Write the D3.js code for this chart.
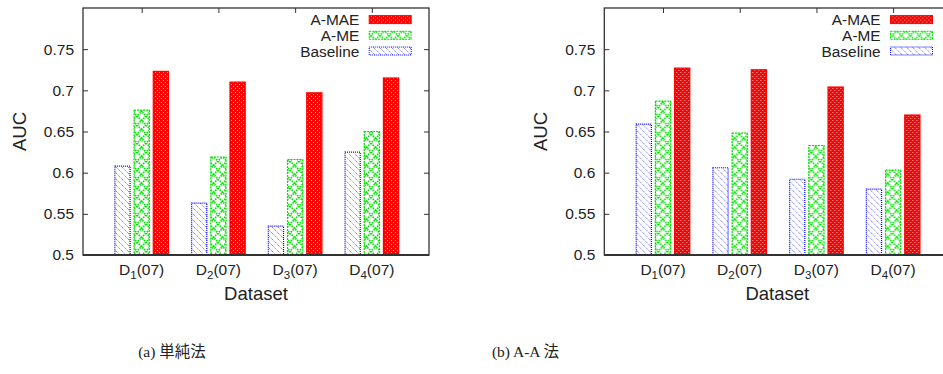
<!DOCTYPE html>
<html>
<head>
<meta charset="utf-8">
<script src="https://cdn.jsdelivr.net/npm/d3@7"></script>
<style>
body{margin:0;background:#fff;}
text{font-family:"Liberation Sans",Arial,sans-serif;fill:#222;}
.cap{font-family:"Liberation Serif","Noto Sans CJK JP",serif;}
</style>
</head>
<body>
<div id="chart"></div>
<script>
// AUC per dataset, two methods (a) simple, (b) A-A
var datasets=[1,2,3,4];
var seriesNames=["Baseline","A-ME","A-MAE"];
var yTicks=[0.5,0.55,0.6,0.65,0.7,0.75];
var simpleBaseline=[0.608,0.563,0.535,0.625];
var simpleAME=[0.676,0.619,0.616,0.650];
var simpleAMAE=[0.723,0.710,0.697,0.715];
var aaBaseline=[0.659,0.606,0.592,0.580];
var aaAME=[0.687,0.648,0.633,0.603];
var aaAMAE=[0.727,0.725,0.704,0.670];
var captions=["(a) 単純法","(b) A-A 法"];

var W=943,H=374;
var pw=346,ph=247;

var svg=d3.select("#chart").append("svg")
.attr("width",W).attr("height",H);

// fill patterns
var defs=svg.append("defs");
var pr=defs.append("pattern").attr("id","pRed").attr("patternUnits","userSpaceOnUse")
.attr("width",4).attr("height",4);
pr.append("rect").attr("width",4).attr("height",4).attr("fill","#f00");
pr.append("rect").attr("x",0).attr("y",0).attr("width",1).attr("height",1).attr("fill","#ffb8b8");
pr.append("rect").attr("x",2).attr("y",2).attr("width",1).attr("height",1).attr("fill","#ffb8b8");

var pg=defs.append("pattern").attr("id","pGreen").attr("patternUnits","userSpaceOnUse")
.attr("width",9).attr("height",9);
pg.append("rect").attr("width",9).attr("height",9).attr("fill","#fff");
pg.append("path").attr("d","M0,0L9,9M9,0L0,9")
.attr("stroke","#00e600").attr("stroke-width",1.7).attr("stroke-dasharray","1.6,0.9");

var pb=defs.append("pattern").attr("id","pBlue").attr("patternUnits","userSpaceOnUse")
.attr("width",6).attr("height",6);
pb.append("rect").attr("width",6).attr("height",6).attr("fill","#fff");
pb.append("path").attr("d","M-1,-1L7,7M-1,5L1,7M5,-1L7,1")
.attr("stroke","#5050ff").attr("stroke-width",1).attr("stroke-dasharray","1,1");

var fills={"Baseline":"url(#pBlue)","A-ME":"url(#pGreen)","A-MAE":"url(#pRed)"};
var strokes={"Baseline":"#0000ff","A-ME":"#00dd00","A-MAE":"#ff0000"};
var dashes={"Baseline":"1,1","A-ME":"2,1","A-MAE":null};

function panel(ox,series,caption,capX){
var g=svg.append("g").attr("transform",`translate(${ox},8)`);
var x=d3.scaleLinear().domain([-0.765,3.745]).range([0,pw]);
var xSub=d3.scaleBand().domain(seriesNames).range([-27.3,27.3]).paddingInner(0.156);
var y=d3.scaleLinear().domain([0.5,0.8]).range([ph,0]);

// bars
seriesNames.forEach(function(s,si){
g.selectAll(".b"+si).data(series[si]).enter()
.append("rect")
.attr("x",function(d,i){return x(i)+xSub(s)+0.5;})
.attr("width",xSub.bandwidth()-1)
.attr("y",function(d){return y(d);})
.attr("height",function(d){return ph-y(d);})
.attr("fill",fills[s]).attr("stroke",strokes[s])
.attr("stroke-width",1.2).attr("stroke-dasharray",dashes[s]);
});

// frame
g.append("rect").attr("width",pw).attr("height",ph)
.attr("fill","none").attr("stroke","#333").attr("stroke-width",1.3);
g.append("line").attr("x1",0).attr("x2",pw).attr("y1",ph).attr("y2",ph)
.attr("stroke","#333").attr("stroke-width",2);

// y axis (inward ticks, mirrored)
var ya=g.append("g").call(d3.axisLeft(y).tickValues(yTicks).tickSizeInner(-5).tickSizeOuter(0)
.tickPadding(9).tickFormat(d3.format("")));
ya.select(".domain").remove();
ya.selectAll("line").attr("stroke","#333");
ya.selectAll("text").style("font-size","15.5px").attr("fill","#222");
var yr=g.append("g").attr("transform",`translate(${pw},0)`)
.call(d3.axisRight(y).tickValues(yTicks).tickSizeInner(-5).tickSizeOuter(0).tickFormat(""));
yr.select(".domain").remove();
yr.selectAll("line").attr("stroke","#333");

// top ticks
var xt=g.append("g").call(d3.axisTop(x).tickValues([0,1,2,3]).tickSizeInner(-5).tickSizeOuter(0).tickFormat(""));
xt.select(".domain").remove();
xt.selectAll("line").attr("stroke","#333");

// x tick labels D_n(07)
var lab=g.selectAll(".xl").data(datasets).enter().append("text")
.attr("x",function(d,i){return x(i);}).attr("y",ph+20)
.attr("text-anchor","middle").style("font-size","15.5px");
lab.append("tspan").text("D");
lab.append("tspan").text(function(d){return d;}).attr("dy",4).style("font-size","11.5px");
lab.append("tspan").text("(07)").attr("dy",-4);

// axis titles
g.append("text").attr("x",pw/2).attr("y",ph+45).attr("text-anchor","middle")
.style("font-size","18.5px").text("Dataset");
g.append("text").attr("transform",`translate(-57,${ph/2})rotate(-90)`)
.attr("text-anchor","middle").style("font-size","18.5px").text("AUC");

// legend
var leg=g.selectAll(".lg").data(seriesNames.slice().reverse()).enter().append("g")
.attr("transform",function(d,i){return `translate(0,${11.6+i*15.7})`;});
leg.append("text").attr("x",276.3).attr("y",5.5).attr("text-anchor","end")
.style("font-size","15.4px").text(function(d){return d;});
leg.append("rect").attr("x",286.2).attr("y",-4).attr("width",42).attr("height",8)
.attr("fill",function(d){return fills[d];}).attr("stroke",function(d){return strokes[d];})
.attr("stroke-dasharray",function(d){return dashes[d];});

// caption
svg.append("text").attr("class","cap").attr("x",capX).attr("y",357)
.attr("text-anchor","middle").style("font-size","15.5px").text(caption);
}

panel(83,[simpleBaseline,simpleAME,simpleAMAE],captions[0],172);
panel(604.3,[aaBaseline,aaAME,aaAMAE],captions[1],525.5);
</script>
</body>
</html>
